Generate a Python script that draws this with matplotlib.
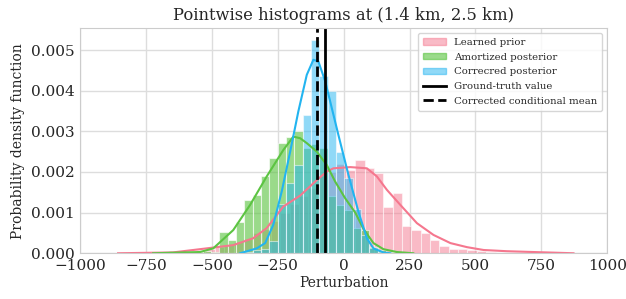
import numpy as np
import matplotlib.pyplot as plt

# ==========================================
# DADOS
# ==========================================

# Histograma do prior aprendido (rosa)
PRIOR_START = -701.8
PRIOR_WIDTH = 35.5
prior_heights = [0.00001, 0.00002, 0.00003, 0.00004, 0.00008, 0.0001, 0.00015,
                 0.0002, 0.00028, 0.00035, 0.0005, 0.0006, 0.0008, 0.001,
                 0.0012, 0.0014, 0.0016, 0.0019, 0.0020, 0.0022, 0.00205,
                 0.0023, 0.0021, 0.00197, 0.00115, 0.00148, 0.00067, 0.00057,
                 0.00049, 0.00033, 0.00018, 0.0001, 0.0001, 0.00008, 0.00005,
                 0.00002, 0.00001]

# Histogramas dos posteriores (mesmos bins)
POST_START = -661.6
POST_WIDTH = 31.6
amortized_heights = [0.00005, 0.0, 0.0, 0.00002, 0.00006, 0.00003, 0.00053,
                     0.00033, 0.00078, 0.0013, 0.00143, 0.0019, 0.00234,
                     0.00271, 0.00287, 0.0030, 0.00259, 0.0027, 0.00258,
                     0.0014, 0.00119, 0.00107, 0.00062, 0.00057, 0.00016,
                     0.00008, 0.00002]
corrected_heights = [0.0, 0.0, 0.0, 0.0, 0.0, 0.0, 0.0, 0.0, 0.0, 0.00003,
                     0.00008, 0.0001, 0.0003, 0.0012, 0.00173, 0.00217,
                     0.0034, 0.00525, 0.00435, 0.0040, 0.0025, 0.00185,
                     0.0011, 0.00045, 0.00014, 0.00004, 0.0]

# Curvas KDE
prior_kde_x = [-856, -648, -520, -419, -343, -292, -229, -165, -102, -64,
               -39, 25, 88, 126, 164, 215, 278, 341, 405, 468, 531, 620, 721,
               872]
prior_kde_y = [0, 0.00002, 0.00012, 0.0002, 0.00037, 0.00062, 0.00115,
               0.00142, 0.0018, 0.00201, 0.00209, 0.00212, 0.00209, 0.00189,
               0.00156, 0.00119, 0.00074, 0.00045, 0.00025, 0.00015, 0.00008,
               0.00005, 0.00003, 0]

amortized_kde_x = [-723, -545, -495, -419, -355, -292, -229, -191, -165,
                   -140, -102, -64, -32, 6, 44, 75, 113, 151, 202, 264]
amortized_kde_y = [0, 0.00003, 0.00012, 0.00057, 0.00119, 0.00189, 0.00254,
                   0.00287, 0.00283, 0.00271, 0.0025, 0.00217, 0.00176,
                   0.00135, 0.001, 0.0006, 0.00025, 0.0001, 0.00003, 0]

corrected_kde_x = [-393, -330, -298, -267, -235, -203, -172, -140, -115, -96,
                   -70, -45, -20, 18, 56, 88, 113, 151, 177]
corrected_kde_y = [0, 0.00012, 0.00025, 0.0007, 0.00152, 0.0025, 0.00349,
                   0.00439, 0.00476, 0.00472, 0.00423, 0.00357, 0.00291,
                   0.00193, 0.00102, 0.00037, 0.00012, 0.00002, 0]

GROUND_TRUTH = -70
CONDITIONAL_MEAN = -102

PINK = '#f5778e'
GREEN = '#5cc442'
BLUE = '#22b4f0'


def draw_hist(ax, start, width, heights, color, alpha):
    lefts = start + width * np.arange(len(heights))
    ax.bar(lefts, heights, width=width, align='edge', color=color,
           alpha=alpha, edgecolor='white', linewidth=0.8)


plt.rcParams['font.family'] = ['DejaVu Serif']
plt.rcParams['text.color'] = '#262626'
plt.rcParams['axes.labelcolor'] = '#262626'
plt.rcParams['xtick.color'] = '#262626'
plt.rcParams['ytick.color'] = '#262626'

fig = plt.figure(figsize=(6.26, 2.99), dpi=100)
ax = fig.add_axes([0.128, 0.153, 0.842, 0.753])

draw_hist(ax, PRIOR_START, PRIOR_WIDTH, prior_heights, PINK, 0.5)
draw_hist(ax, POST_START, POST_WIDTH, amortized_heights, GREEN, 0.62)
draw_hist(ax, POST_START, POST_WIDTH, corrected_heights, BLUE, 0.5)

ax.plot(prior_kde_x, prior_kde_y, color=PINK, linewidth=1.5)
ax.plot(amortized_kde_x, amortized_kde_y, color=GREEN, linewidth=1.5)
ax.plot(corrected_kde_x, corrected_kde_y, color=BLUE, linewidth=1.5)

ax.axvline(GROUND_TRUTH, color='black', linewidth=2)
ax.axvline(CONDITIONAL_MEAN, color='black', linewidth=2, linestyle='--')

ax.set_xlim(-1000, 1000)
ax.set_ylim(0, 0.00554)
ax.set_xticks([-1000, -750, -500, -250, 0, 250, 500, 750, 1000])
ax.set_yticks([0, 0.001, 0.002, 0.003, 0.004, 0.005])
ax.set_yticklabels(['0.000', '0.001', '0.002', '0.003', '0.004', '0.005'])
ax.tick_params(axis='both', length=0, labelsize=11, pad=4)

ax.set_axisbelow(True)
ax.grid(True, color='#dddddd', linewidth=1)
for s in ax.spines.values():
    s.set_color('#cccccc')

ax.set_title('Pointwise histograms at (1.4 km, 2.5 km)', fontsize=11.8)
ax.set_xlabel('Perturbation', fontsize=10, labelpad=2)
ax.set_ylabel('Probability density function', fontsize=10)

handles = [
    plt.Rectangle((0, 0), 1, 1, color=PINK, alpha=0.5),
    plt.Rectangle((0, 0), 1, 1, color=GREEN, alpha=0.62),
    plt.Rectangle((0, 0), 1, 1, color=BLUE, alpha=0.5),
    plt.Line2D([], [], color='black', linewidth=2),
    plt.Line2D([], [], color='black', linewidth=2, linestyle='--'),
]
labels = ['Learned prior', 'Amortized posterior', 'Correcred posterior',
          'Ground-truth value', 'Corrected conditional mean']
ax.legend(handles, labels, loc='upper right', fontsize=7.3,
          handlelength=2.2, handleheight=0.6, labelspacing=0.55,
          borderpad=0.5, edgecolor='#cccccc', fancybox=True)

fig.savefig('out.png', dpi=100)
